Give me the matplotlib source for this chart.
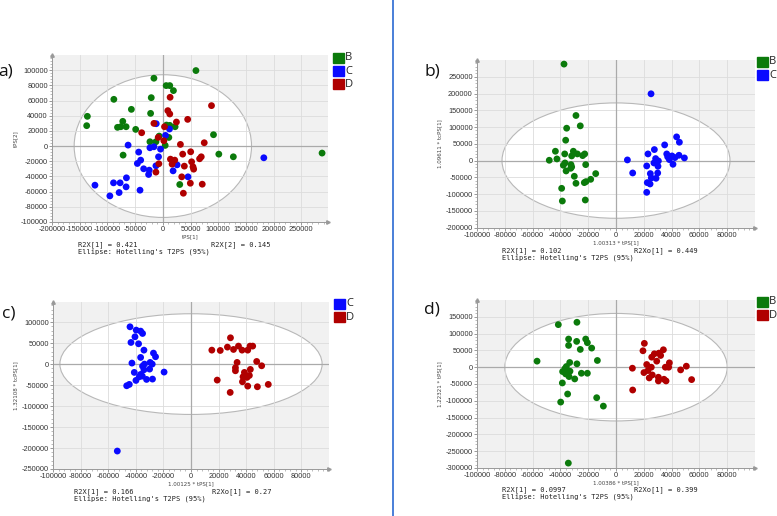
import numpy as np
import matplotlib
matplotlib.use("Agg")
import matplotlib.pyplot as plt
from matplotlib.patches import Ellipse, Rectangle
from matplotlib.lines import Line2D
from matplotlib.ticker import MultipleLocator, FixedLocator, FuncFormatter

plt.rcParams['axes.unicode_minus'] = False

# group colours
col = {'B': '#0b7a0b', 'C': '#0a0aff', 'D': '#b00000'}

# ---------------- panel a) PCA B/C/D ----------------
a_B_x = [59700, -16100, 6000, 12500, 19100, -20900, -88400, -56800, -136200, -137400,
         -22100, -72300, -81800, -75900, -66300, -49000, 6600, 22100, 12500, -6600,
         10800, -23300, -12500, 4200, 91400, -71700, 101000, 127200, 287300, 30500]
a_B_y = [99500, 89400, 79700, 79700, 73100, 63800, 61600, 48400, 39200, 26900,
         43100, 32600, 24700, 25500, 25500, 22000, 27700, 25500, 27300, 13200,
         11400, 5700, 5700, 900, 15000, -11900, -10600, -14100, -9200, -50600]
a_C_x = [-11900, 12000, 4800, -62700, -4200, -23300, -16100, -43600, -7800, -40000,
         -46000, -34600, -24500, -25700, -12500, 25700, 18500, 45400, -65700, -89000,
         -77100, -66300, -78900, -122500, -95600, -41200, 182200]
a_C_y = [29500, 22500, 14100, 1300, -4000, -2200, -900, -7900, -14100, -18500,
         -22900, -29900, -31700, -37400, -26000, -24700, -32600, -40500, -41800, -48400,
         -48400, -53700, -61200, -51500, -65600, -58100, -15400]
a_D_x = [13100, 87800, 9000, 12500, 24500, 44800, -16100, 3000, -38200, -8400,
         1800, 31700, 74700, 50200, 35800, 13700, 21500, -7200, 16700, 69300,
         66300, 51900, 54400, 55600, 38800, 34100, 49600, 71100, 37000, -12500]
a_D_y = [64300, 53300, 46700, 42300, 31700, 35200, 29900, 25500, 17600, 11400,
         7000, 2200, 4400, -7500, -10600, -17200, -18500, -23300, -23800, -14100,
         -16700, -20700, -27300, -30400, -26400, -40500, -48900, -50200, -62100, -34300]

# ---------------- panel b) OPLS B vs C ----------------
b_B_x = [-37400, -28800, -25700, -35500, -36200, -43600, -48000, -42500, -36900, -31900,
         -30700, -27800, -24000, -22500, -36700, -37900, -32400, -31900, -35900, -32600,
         -21800, -30000, -14600, -18200, -21600, -22800, -28800, -39100, -38600, -22100]
b_B_y = [287800, 134500, 103600, 96600, 60800, 27900, 1000, 5000, 19900, 13900,
         27900, 19900, 14900, 19900, -7000, -13900, -12000, -18900, -30900, -22900,
         -12000, -46800, -38800, -55800, -62700, -65700, -67700, -82700, -120500, -117500]
b_C_x = [25200, 43600, 45600, 35000, 27600, 23000, 28500, 27300, 30500, 30200,
         22100, 36500, 37200, 40300, 42400, 45300, 49200, 41000, 8200, 12000,
         24700, 30000, 25400, 28800, 22500, 24500, 22100, 38400]
b_C_y = [199200, 70700, 54800, 46800, 32900, 19900, 6000, -7000, -1000, -16900,
         -15900, 19900, 11000, 13900, 9000, 15900, 8000, -11000, 2000, -36900,
         -38800, -36900, -51800, -52800, -65700, -69700, -94600, 3000]

# ---------------- panel c) OPLS C vs D ----------------
c_C_x = [-44200, -39700, -36500, -35100, -40600, -43500, -38000, -34100, -27200, -25700,
         -42800, -36500, -33700, -35100, -29600, -28100, -34100, -30000, -41100, -36500,
         -37500, -32200, -27900, -19500, -39900, -44700, -46600, -53400, -35300]
c_C_y = [88900, 81000, 78600, 73000, 65100, 51600, 48400, 33300, 26200, 17500,
         2400, 15900, 0, -4800, 4000, 0, -13500, -11900, -19800, -24600,
         -30200, -36500, -35700, -19000, -38900, -48400, -51600, -207200, -28600]
c_D_x = [28600, 15100, 21200, 26400, 30800, 34400, 37000, 41100, 42800, 44700,
         33400, 32200, 32200, 47600, 51200, 43000, 38700, 42300, 40600, 37700,
         37300, 19000, 41100, 48100, 56000, 28400]
c_D_y = [62700, 33300, 32500, 40500, 34900, 42900, 33300, 33300, 42900, 42900,
         4000, -8700, -15900, 6300, -4000, -12700, -19800, -27000, -31700, -30200,
         -42100, -38100, -52400, -54000, -48400, -67500]

# ---------------- panel d) OPLS B vs D ----------------
d_B_x = [-41500, -28100, -34100, -28300, -21800, -20600, -17500, -34100, -25700, -56800,
         -33300, -13400, -28100, -35700, -36700, -38400, -33100, -36200, -33800, -24900,
         -20600, -29700, -38600, -34800, -13900, -39800, -9100, -34300]
d_B_y = [126700, 133700, 83800, 76800, 83800, 72900, 56900, 64900, 52900, 18000,
         14000, 20000, 10000, 2000, -4000, -13000, -12000, -20000, -27900, -18000,
         -18000, -34900, -46900, -79800, -90800, -103800, -115800, -285400]
d_D_x = [20400, 19400, 27600, 25700, 30900, 34100, 32100, 29300, 38400, 22100,
         25400, 23000, 11800, 20100, 26100, 23900, 30500, 30500, 34500, 36000,
         35500, 37900, 46500, 50600, 54400, 12000]
d_D_y = [70900, 48900, 39900, 29900, 41900, 51900, 34900, 18000, 13000, 8000,
         0, -10000, -3000, -16000, -23000, -31900, -29900, -40900, -35900, -40900,
         0, 0, -8000, 3000, -36900, -67900]

W, H = 777, 516


def fx(px):
    return px / W


def fy(py):
    return 1 - py / H


fmt = FuncFormatter(lambda v, p: "%d" % int(round(v)))


def panel(box, groups, xlim, ylim, xt, yt, ell, xlab, ylab):
    x0, y0, x1, y1 = box
    ax = fig.add_axes([fx(x0), fy(y1), (x1 - x0) / W, (y1 - y0) / H])
    ax.set_facecolor('#f1f1f1')
    ax.set_xlim(*xlim)
    ax.set_ylim(*ylim)
    # xt / yt = (first, last, step) of the labelled ticks
    ax.xaxis.set_major_locator(FixedLocator(np.arange(xt[0], xt[1] + 1, xt[2])))
    ax.yaxis.set_major_locator(FixedLocator(np.arange(yt[0], yt[1] + 1, yt[2])))
    ax.xaxis.set_minor_locator(MultipleLocator(xt[2] / 5))
    ax.yaxis.set_minor_locator(MultipleLocator(yt[2] / 5))
    ax.xaxis.set_major_formatter(fmt)
    ax.yaxis.set_major_formatter(fmt)
    ax.tick_params(labelsize=5.3, colors='#333333', length=2, width=0.6, pad=1)
    ax.tick_params(which='minor', length=1.2, width=0.4, color='#888888')
    ax.tick_params(which='major', color='#888888')
    for t in ax.get_xticklabels() + ax.get_yticklabels():
        t.set_family('Liberation Sans')
    ax.grid(True, color='#dcdcdc', lw=0.6, zorder=0.5)
    ax.set_axisbelow(True)
    for s in ['top', 'right']:
        ax.spines[s].set_visible(False)
    for s in ['left', 'bottom']:
        ax.spines[s].set_color('#999999')
        ax.spines[s].set_linewidth(0.7)
    # Hotelling ellipse
    ax.add_patch(Ellipse((0, 0), 2 * ell[0], 2 * ell[1], facecolor='white',
                         edgecolor='#b8b8b8', lw=0.8, zorder=0.3))
    ax.axhline(0, color='#aaaaaa', lw=0.9, zorder=1)
    ax.axvline(0, color='#aaaaaa', lw=0.9, zorder=1)
    # axis arrows
    ax.plot([1], [0], '>', transform=ax.transAxes, color='#999999', ms=2.5, clip_on=False)
    ax.plot([0], [1], '^', transform=ax.transAxes, color='#999999', ms=2.5, clip_on=False)
    for g, xs, ys in groups:
        ax.scatter(xs, ys, s=24, color=col[g], edgecolors='none', zorder=3)
    ax.set_xlabel(xlab, fontsize=4, color='#444444', labelpad=1)
    ax.set_ylabel(ylab, fontsize=4, color='#444444', labelpad=2)
    return ax


def legend(px, py, keys):
    for i, k in enumerate(keys):
        top = py + i * 13
        fig.patches.append(Rectangle((fx(px), fy(top + 10)), 10.5 / W, 10 / H,
                                     transform=fig.transFigure, color=col[k]))
        fig.text(fx(px + 12), fy(top + 5), k, fontsize=8, va='center',
                 color='#222222', family='Open Sans')


def notes(px, py, left, right, px2):
    fig.text(fx(px), fy(py), left, fontsize=5, family='DejaVu Sans Mono',
             va='center', color='#222222')
    fig.text(fx(px2), fy(py), right, fontsize=5, family='DejaVu Sans Mono',
             va='center', color='#222222')
    fig.text(fx(px), fy(py + 6.4), "Ellipse: Hotelling's T2PS (95%)", fontsize=5,
             family='DejaVu Sans Mono', va='center', color='#222222')


fig = plt.figure(figsize=(7.77, 5.16), dpi=100)

panel((52, 55, 328, 222), [('B', a_B_x, a_B_y), ('C', a_C_x, a_C_y), ('D', a_D_x, a_D_y)],
      (-200000, 298000), (-100000, 120000), (-200000, 250000, 50000),
      (-100000, 100000, 20000), (160000, 94000), 'tPS[1]', 'tPS[2]')
panel((477, 60, 755, 228), [('B', b_B_x, b_B_y), ('C', b_C_x, b_C_y)],
      (-100000, 100000), (-201000, 300000), (-100000, 80000, 20000),
      (-200000, 250000, 50000), (82000, 172000), '1.00313 * tPS[1]', '1.09611 * tcPS[1]')
panel((53, 302, 329, 469), [('C', c_C_x, c_C_y), ('D', c_D_x, c_D_y)],
      (-100000, 100000), (-250000, 148000), (-100000, 80000, 20000),
      (-250000, 100000, 50000), (95000, 120000), '1.00125 * tPS[1]', '1.32108 * tcPS[1]')
panel((477, 300, 755, 468), [('B', d_B_x, d_B_y), ('D', d_D_x, d_D_y)],
      (-100000, 100000), (-300000, 200000), (-100000, 80000, 20000),
      (-300000, 150000, 50000), (80000, 160000), '1.00386 * tPS[1]', '1.22321 * tPS[1]')

legend(333, 53, ['B', 'C', 'D'])
legend(757, 57, ['B', 'C'])
legend(334, 299, ['C', 'D'])
legend(757, 297, ['B', 'D'])

notes(78, 245, 'R2X[1] = 0.421', 'R2X[2] = 0.145', 211)
notes(502, 251, 'R2X[1] = 0.102', 'R2Xo[1] = 0.449', 634)
notes(74, 492, 'R2X[1] = 0.166', 'R2Xo[1] = 0.27', 212)
notes(502, 490, 'R2X[1] = 0.0997', 'R2Xo[1] = 0.399', 634)

# panel letters
for lab, px, py in [('a)', 6, 72), ('b)', 432, 72), ('c)', 9, 314), ('d)', 432, 309)]:
    fig.text(fx(px), fy(py), lab, fontsize=12.5, ha='center', va='center',
             family='Open Sans', color='#111111')

# divider line
fig.add_artist(Line2D([fx(392.5), fx(392.5)], [0, 1], color='#4a7fd8', lw=1.4))

fig.savefig('out.png', dpi=100)
